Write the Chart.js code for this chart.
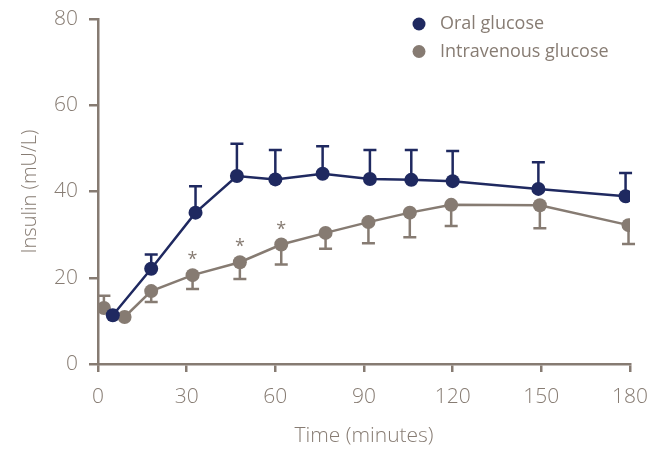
<!DOCTYPE html>
<html>
<head>
  <meta charset="utf-8">
  <title>Insulin response: oral vs intravenous glucose</title>
  <style>
    html, body { margin: 0; padding: 0; background: #fff; }
    #wrap { width: 651px; height: 451px; }
  </style>
  <script src="https://cdn.jsdelivr.net/npm/chart.js"></script>
</head>
<body>
  <div id="wrap"><canvas id="insulinChart" width="651" height="451"></canvas></div>
  <script>
    // values
    const seriesNames = ['Oral glucose', 'Intravenous glucose'];
    const oralTimes = [5, 18, 33, 47, 60, 76, 92, 106, 120, 149, 178.5];
    const oralInsulin = [11.3, 22.1, 35.1, 43.6, 42.8, 44.1, 42.9, 42.7, 42.4, 40.6, 38.9];
    const oralErrUp = [0, 3.3, 6.1, 7.5, 6.8, 6.4, 6.7, 6.9, 7.0, 6.2, 5.4];
    const ivTimes = [2, 9, 18, 32, 48, 62, 77, 91.5, 105.5, 119.5, 149.5, 179.5];
    const ivInsulin = [13.0, 10.9, 16.9, 20.6, 23.6, 27.7, 30.4, 32.9, 35.1, 36.9, 36.8, 32.2];
    const ivErrDown = [-2.8, 0, 2.5, 3.2, 3.9, 4.6, 3.7, 4.9, 5.7, 4.9, 5.3, 4.4]; // negative = bar drawn upward
    const ivSignificant = [false, false, false, true, true, true, false, false, false, false, false, false];
    const xTicks = [0, 30, 60, 90, 120, 150, 180];
    const yTicks = [0, 20, 40, 60, 80];

    const navy = '#1f2960';
    const taupe = '#867b72';
    const textGrey = '#877c73';
    const fontFamily = '"Open Sans", "Noto Sans", sans-serif';

    // error bars, drawn under the points
    const errorBars = {
      id: 'errorBars',
      beforeDatasetsDraw(chart) {
        const ctx = chart.ctx;
        const x = chart.scales.x, y = chart.scales.y;
        const sets = [
          { t: oralTimes, v: oralInsulin, e: oralErrUp.map(d => -d), color: navy },
          { t: ivTimes, v: ivInsulin, e: ivErrDown, color: taupe }
        ];
        ctx.save();
        ctx.lineWidth = 2.5;
        sets.forEach(s => {
          ctx.strokeStyle = s.color;
          s.t.forEach((t, i) => {
            if (!s.e[i]) return;
            const px = x.getPixelForValue(t);
            const py0 = y.getPixelForValue(s.v[i]);
            const py1 = y.getPixelForValue(s.v[i] - s.e[i]);
            ctx.beginPath();
            ctx.moveTo(px, py0);
            ctx.lineTo(px, py1);
            ctx.moveTo(px - 6.5, py1);
            ctx.lineTo(px + 6.5, py1);
            ctx.stroke();
          });
        });
        ctx.restore();
      },
      afterDatasetsDraw(chart) {
        // significance asterisks over the IV series
        const ctx = chart.ctx;
        const x = chart.scales.x, y = chart.scales.y;
        ctx.save();
        ctx.fillStyle = taupe;
        ctx.font = '18px ' + fontFamily;
        ctx.textAlign = 'center';
        ctx.textBaseline = 'middle';
        ivTimes.forEach((t, i) => {
          if (!ivSignificant[i]) return;
          ctx.fillText('*', x.getPixelForValue(t), y.getPixelForValue(ivInsulin[i]) - 15);
        });
        ctx.restore();
      }
    };

    // legend in the top right of the plot
    const cornerLegend = {
      id: 'cornerLegend',
      afterDraw(chart) {
        const ctx = chart.ctx;
        const area = chart.chartArea;
        const left = area.left + 321;
        ctx.save();
        ctx.font = '18px ' + fontFamily;
        ctx.textBaseline = 'middle';
        chart.data.datasets.forEach((ds, i) => {
          const cy = area.top + 5 + i * 27.5;
          ctx.fillStyle = ds.backgroundColor;
          ctx.beginPath();
          ctx.arc(left, cy, 6.5, 0, Math.PI * 2);
          ctx.fill();
          ctx.fillStyle = textGrey;
          ctx.fillText(ds.label, left + 21, cy);
        });
        ctx.restore();
      }
    };

    const tickFont = { family: fontFamily, size: 21, weight: '300' };

    new Chart(document.getElementById('insulinChart'), {
      type: 'line',
      data: {
        datasets: [
          {
            label: seriesNames[0],
            data: oralTimes.map((t, i) => ({ x: t, y: oralInsulin[i] })),
            borderColor: navy,
            backgroundColor: navy,
            borderWidth: 2.5,
            pointRadius: 7,
            pointBorderWidth: 0,
            tension: 0
          },
          {
            label: seriesNames[1],
            data: ivTimes.map((t, i) => ({ x: t, y: ivInsulin[i] })),
            borderColor: taupe,
            backgroundColor: taupe,
            borderWidth: 2.5,
            pointRadius: 7,
            pointBorderWidth: 0,
            tension: 0
          }
        ]
      },
      options: {
        responsive: false,
        animation: false,
        layout: { padding: { top: 19, right: 21, left: 0, bottom: 0 } },
        plugins: {
          legend: { display: false },
          tooltip: { enabled: false }
        },
        scales: {
          x: {
            type: 'linear',
            min: 0,
            max: 180,
            afterFit: s => { s.height = 87; s.paddingLeft = 0; s.paddingRight = 0; },
            afterBuildTicks: s => { s.ticks = xTicks.map(v => ({ value: v })); },
            border: { display: true, color: taupe, width: 2.5 },
            grid: { drawOnChartArea: false, drawTicks: true, tickLength: 8, color: taupe, lineWidth: 2.5 },
            ticks: { color: textGrey, font: tickFont, padding: 12, maxRotation: 0 },
            title: {
              display: true,
              text: 'Time (minutes)',
              color: textGrey,
              font: { family: fontFamily, size: 21, weight: '300' },
              padding: { top: 0, bottom: 2 }
            }
          },
          y: {
            min: 0,
            max: 80,
            afterFit: s => { s.width = 98; s.paddingTop = 0; s.paddingBottom = 0; },
            afterBuildTicks: s => { s.ticks = yTicks.map(v => ({ value: v })); },
            border: { display: true, color: taupe, width: 2.5 },
            grid: { drawOnChartArea: false, drawTicks: true, tickLength: 9, color: taupe, lineWidth: 2.5 },
            ticks: { color: textGrey, font: tickFont, padding: 11 },
            title: {
              display: true,
              text: 'Insulin (mU/L)',
              color: textGrey,
              font: { family: fontFamily, size: 20, weight: '300' },
              padding: { top: 18, bottom: 0 }
            }
          }
        }
      },
      plugins: [errorBars, cornerLegend]
    });
  </script>
</body>
</html>
